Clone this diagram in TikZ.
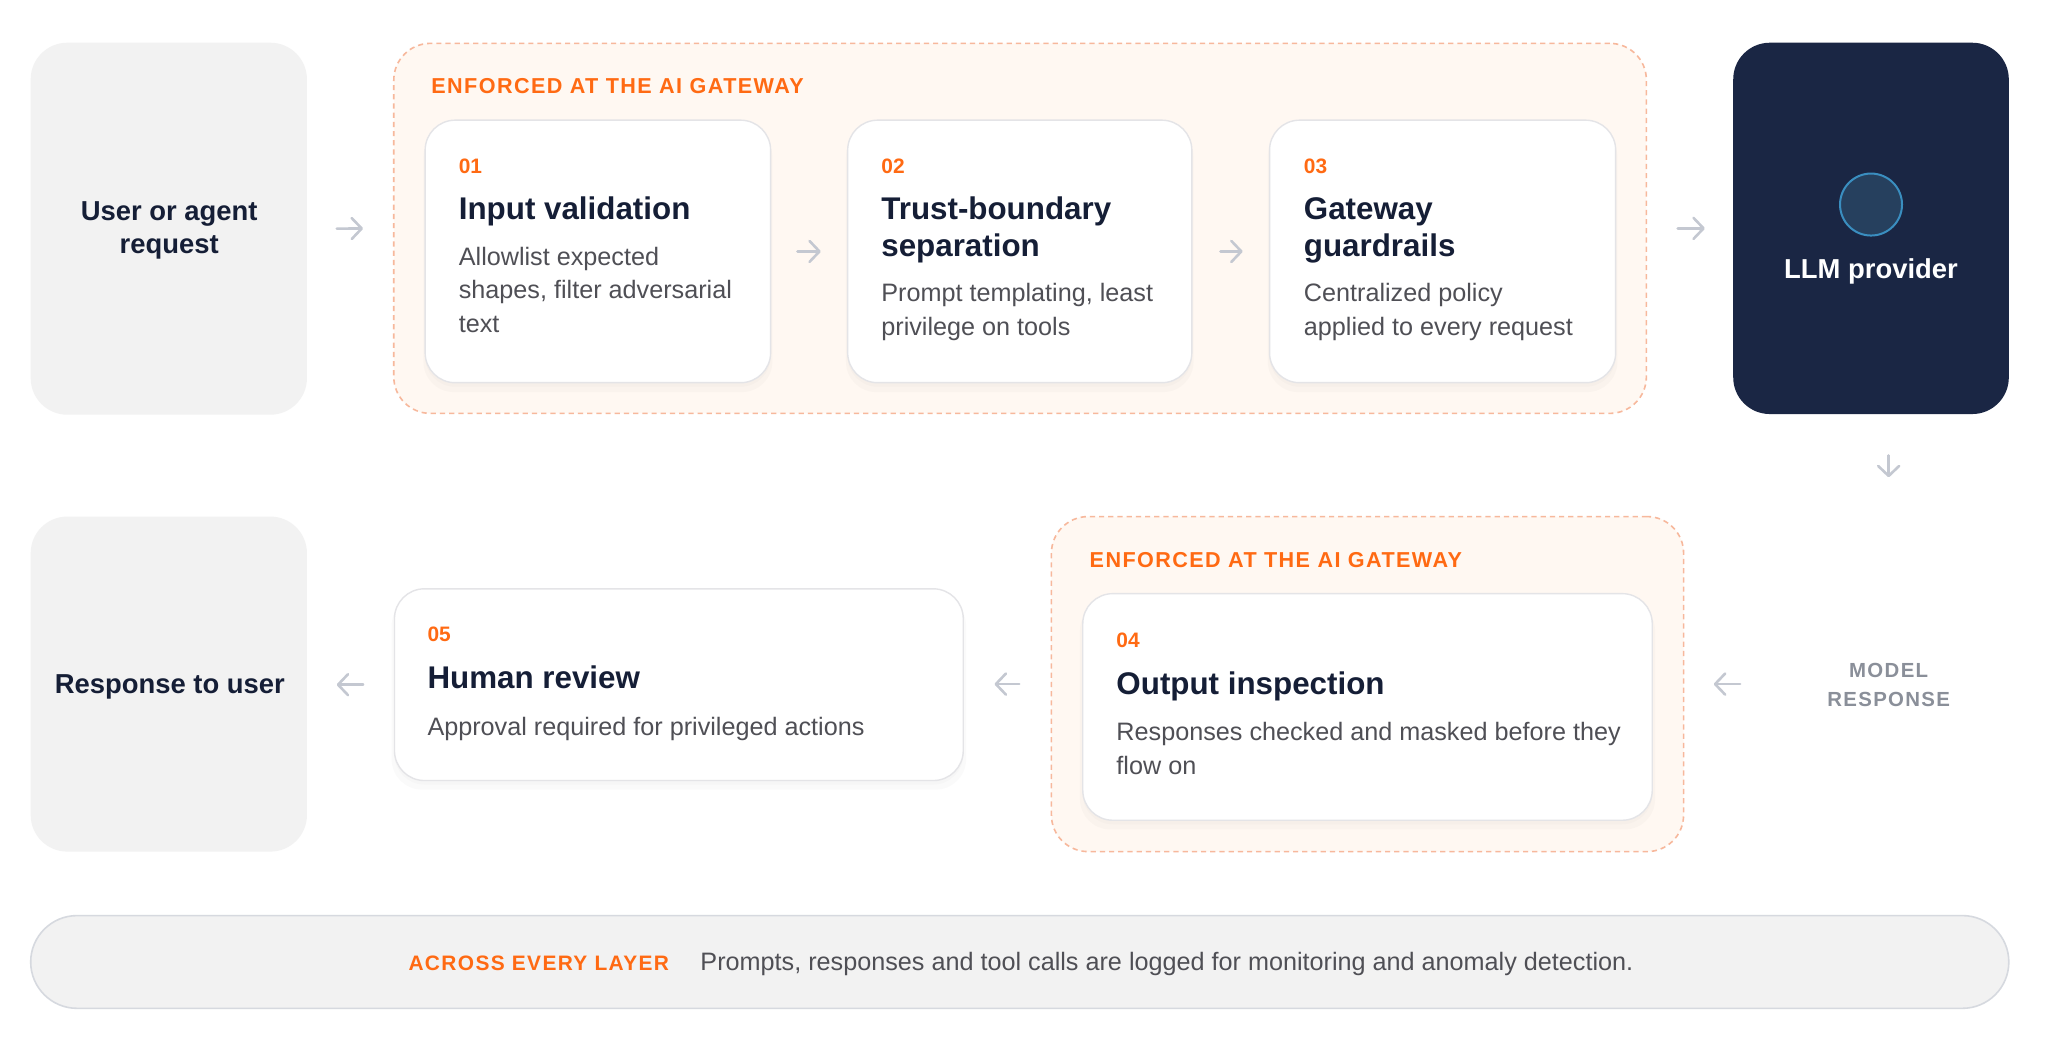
\documentclass[tikz,border=0pt]{standalone}
\usepackage{fontspec}
\setmainfont{Liberation Sans}
\newfontfamily\spacedfont[LetterSpace=6.5]{Liberation Sans}
\usetikzlibrary{arrows.meta,fit,shadows}
\definecolor{navy}{HTML}{151E36}
\definecolor{orng}{HTML}{FF6A13}
\definecolor{bodyg}{HTML}{4F4F55}
\definecolor{arrg}{HTML}{C4C8D1}
\definecolor{boxg}{HTML}{F2F2F2}
\definecolor{gwfill}{HTML}{FFF8F2}
\definecolor{gwline}{HTML}{F7B89C}
\definecolor{cardline}{HTML}{E4E4E7}
\definecolor{llmfill}{HTML}{1A2644}
\definecolor{circf}{HTML}{26405E}
\definecolor{circl}{HTML}{3A8EC0}
\definecolor{mrg}{HTML}{8A8F99}
\definecolor{bandline}{HTML}{D6D9DF}
\tikzset{
  sidebox/.style={fill=boxg, draw=none, rounded corners=18.3pt, inner sep=0pt},
  gwbox/.style={fill=gwfill, draw=gwline, line width=0.8pt, dash pattern=on 2.6pt off 2pt, rounded corners=18.3pt, inner sep=0pt},
  card/.style={fill=white, draw=cardline, line width=0.7pt, rounded corners=15pt, inner sep=0pt,
    drop shadow={opacity=0.035, shadow xshift=0pt, shadow yshift=-4pt, shadow scale=1.01},
    drop shadow={opacity=0.03, shadow xshift=0pt, shadow yshift=-2pt}},
  llmbox/.style={fill=llmfill, draw=none, rounded corners=18.3pt, inner sep=0pt},
  band/.style={fill=boxg, draw=bandline, line width=0.8pt, rounded corners=23.2pt, inner sep=0pt},
  numtxt/.style={anchor=base west, inner sep=0pt, text=orng, font=\fontsize{10.45}{12}\selectfont\bfseries},
  titletxt/.style={anchor=base west, inner sep=0pt, text=navy, font=\fontsize{15.67}{18.3}\selectfont\bfseries},
  bodytxt/.style={anchor=base west, inner sep=0pt, text=bodyg, font=\fontsize{12.6}{17}\selectfont},
  gwlabel/.style={anchor=base west, inner sep=0pt, text=orng, font=\spacedfont\fontsize{10.8}{12}\selectfont\bfseries},
  bandlabel/.style={anchor=base west, inner sep=0pt, text=orng, font=\spacedfont\fontsize{10.45}{12}\selectfont\bfseries},
  sidetxt/.style={anchor=base, inner sep=0pt, text=navy, font=\fontsize{13.71}{16}\selectfont\bfseries},
  mrtxt/.style={anchor=base, inner sep=0pt, text=mrg, font=\spacedfont\fontsize{10.2}{12}\selectfont\bfseries},
  arr/.style={draw=arrg, line width=1.3pt, line cap=round, line join=round, -{Straight Barb[length=5pt,width=10.5pt,line cap=round,line join=round]}}
}
\begin{document}
\begin{tikzpicture}[x=0.6531pt, y=-0.6531pt]
\useasboundingbox (0,0) rectangle (1568,794);
\fill[white] (0,0) rectangle (1568,794);

% top row
\node[sidebox, fit={(23.5,32.7) (235,317.5)}] (user) {};
\node[sidetxt] (user1) at (129.5,169) {User or agent};
\node[sidetxt] (user2) at (129.5,194) {request};

\node[gwbox, fit={(301.5,33.2) (1260.5,316.5)}] (gw1) {};
\node[gwlabel] (gw1lab) at (330,71.5) {ENFORCED AT THE AI GATEWAY};

\node[card, fit={(325.5,92) (590,293)}] (c1) {};
\node[numtxt] (c1n) at (351,132.7) {01};
\node[titletxt] (c1t) at (351,168) {Input validation};
\node[bodytxt] (c1b1) at (351,203) {Allowlist expected};
\node[bodytxt] (c1b2) at (351,228.6) {shapes, filter adversarial};
\node[bodytxt] (c1b3) at (351,254.4) {text};

\node[card, fit={(649,92) (912.5,293)}] (c2) {};
\node[numtxt] (c2n) at (674.5,132.7) {02};
\node[titletxt] (c2t1) at (674.5,168) {Trust-boundary};
\node[titletxt] (c2t2) at (674.5,196.3) {separation};
\node[bodytxt] (c2b1) at (674.5,231) {Prompt templating, least};
\node[bodytxt] (c2b2) at (674.5,256.6) {privilege on tools};

\node[card, fit={(972,92) (1237,293)}] (c3) {};
\node[numtxt] (c3n) at (998,132.7) {03};
\node[titletxt] (c3t1) at (998,168) {Gateway};
\node[titletxt] (c3t2) at (998,196.3) {guardrails};
\node[bodytxt] (c3b1) at (998,231) {Centralized policy};
\node[bodytxt] (c3b2) at (998,256.6) {applied to every request};

\node[llmbox, fit={(1327,32.7) (1538,317)}] (llm) {};
\node[circle, fill=circf, draw=circl, line width=1pt, minimum size=31pt, inner sep=0pt] (orb) at (1432.5,156.6) {};
\node[sidetxt, text=white] (llmt) at (1432.5,213) {LLM provider};

% bottom row
\node[sidebox, fit={(23.5,395.5) (235,652)}] (resp) {};
\node[sidetxt] (respt) at (130,531) {Response to user};

\node[card, fit={(302,450.8) (737.5,597.6)}] (c5) {};
\node[numtxt] (c5n) at (327,490.9) {05};
\node[titletxt] (c5t) at (327,527.2) {Human review};
\node[bodytxt] (c5b) at (327,563.3) {Approval required for privileged actions};

\node[gwbox, fit={(805,395.5) (1289,652)}] (gw2) {};
\node[gwlabel] (gw2lab) at (834,434.2) {ENFORCED AT THE AI GATEWAY};

\node[card, fit={(829,454.5) (1265,628)}] (c4) {};
\node[numtxt] (c4n) at (854.5,495.6) {04};
\node[titletxt] (c4t) at (854.5,531.7) {Output inspection};
\node[bodytxt] (c4b1) at (854.5,567.3) {Responses checked and masked before they};
\node[bodytxt] (c4b2) at (854.5,592.9) {flow on};

\node[mrtxt] (mr1) at (1446,519) {MODEL};
\node[mrtxt] (mr2) at (1446,541) {RESPONSE};

% band
\node[band, fit={(23.5,701) (1538,772)}] (bandbox) {};
\node[bandlabel] (bandlab) at (312.5,742.8) {ACROSS EVERY LAYER};
\node[bodytxt] (bandt) at (536,743) {Prompts, responses and tool calls are logged for monitoring and anomaly detection.};

% connectors
\draw[arr, shorten <=14.7pt, shorten >=15pt] (user.east) -- (gw1.west);
\draw[arr, shorten <=13.1pt, shorten >=13.1pt] (c1.east) -- (c2.west);
\draw[arr, shorten <=14pt, shorten >=13.1pt] (c2.east) -- (c3.west);
\draw[arr, shorten <=15.3pt, shorten >=14pt] (gw1.east) -- (llm.west);
\draw[arr, shorten <=20.5pt, shorten >=93pt] (llm.south -| mr1) -- (mr1);
\draw[arr, shorten <=43.4pt, shorten >=14.7pt] (gw2.east -| mr2.west) -- (gw2.east);
\draw[arr, shorten <=15.7pt, shorten >=15.3pt] (gw2.west) -- (gw2.west -| c5.east);
\draw[arr, shorten <=15.3pt, shorten >=14.7pt] (c5.west) -- (c5.west -| resp.east);
\end{tikzpicture}
\end{document}
